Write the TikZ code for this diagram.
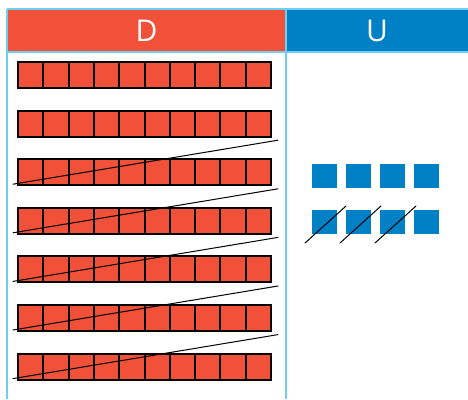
\documentclass[tikz,border=0pt]{standalone}
\usepackage{fontspec}
\setmainfont{Open Sans}
\definecolor{dred}{HTML}{F15039}
\definecolor{ublue}{HTML}{0081C6}
\definecolor{lblue}{HTML}{6DCFF6}
\begin{document}
\begin{tikzpicture}[x=1pt, y=-1pt,
  hdr/.style={rectangle, inner sep=0pt, minimum height=43pt, text=white, font=\fontsize{30}{36}\selectfont},
  cell/.style={draw=black, line width=2pt, fill=dred},
  ublock/.style={fill=ublue},
  slash/.style={line width=1pt, line cap=round},
  frame/.style={draw=lblue, line width=1.8pt},
]
\useasboundingbox (0,0) rectangle (468,399);

% === HEADER ===
\node[hdr, fill=dred, minimum width=279pt] (hD) at (146.5,30.5) {D};
\node[hdr, fill=ublue, minimum width=182pt] (hU) at (377,30.5) {U};

% === FRAME ===
\draw[frame] (7,9) -- (468,9);
\draw[frame] (7,52) -- (468,52);
\draw[frame] (7,9) -- (7,399);
\draw[frame] (286,9) -- (286,399);

% === D: rows of ten ===
\foreach \r in {0,...,6} {
  \pgfmathsetmacro\rtop{62+48.6*\r}
  \foreach \c in {0,...,9}
    \draw[cell] ({18+25.3*\c},\rtop) rectangle ++(25.3,26);
}
\foreach \r in {2,...,6} {
  \pgfmathsetmacro\rtop{62+48.6*\r}
  \draw[slash] (13,{\rtop+25}) -- (278,{\rtop-19});
}

% === U: units ===
\foreach \c in {0,...,3} {
  \fill[ublock] ({312+34*\c},164) rectangle ++(25,24);
  \fill[ublock] ({312+34*\c},210) rectangle ++(25,24);
}
\foreach \c in {0,1,2}
  \draw[slash] ({305+35*\c},243) -- ++(41,-37);
\end{tikzpicture}
\end{document}
